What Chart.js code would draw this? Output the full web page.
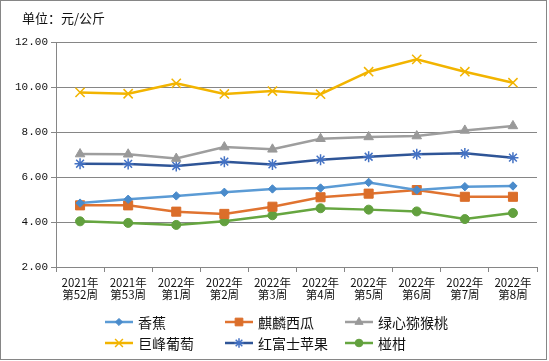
<!DOCTYPE html>
<html>
<head>
<meta charset="utf-8">
<script src="https://cdn.jsdelivr.net/npm/chart.js@4.4.1/dist/chart.umd.min.js"></script>
<style>
html,body{margin:0;padding:0;background:#fff;}
#wrap{width:549px;height:361px;position:relative;}
</style>
</head>
<body>
<div id="wrap"><canvas id="c" width="549" height="361"></canvas></div>
<script>
const categories = [
  ['2021年','第52周'], ['2021年','第53周'], ['2022年','第1周'], ['2022年','第2周'],
  ['2022年','第3周'], ['2022年','第4周'], ['2022年','第5周'], ['2022年','第6周'],
  ['2022年','第7周'], ['2022年','第8周']
];
const banana     = [4.84, 5.01, 5.16, 5.32, 5.47, 5.51, 5.76, 5.42, 5.57, 5.60];
const watermelon = [4.74, 4.74, 4.46, 4.36, 4.68, 5.10, 5.26, 5.42, 5.12, 5.12];
const kiwi       = [7.02, 7.01, 6.82, 7.33, 7.23, 7.70, 7.78, 7.82, 8.07, 8.27];
const grapes     = [9.76, 9.70, 10.16, 9.69, 9.82, 9.68, 10.68, 11.23, 10.68, 10.19];
const apple      = [6.59, 6.58, 6.49, 6.68, 6.56, 6.77, 6.90, 7.01, 7.05, 6.86];
const tangerine  = [4.03, 3.96, 3.87, 4.03, 4.30, 4.61, 4.55, 4.47, 4.13, 4.40];
const seriesNames = ['香蕉', '麒麟西瓜', '绿心猕猴桃', '巨峰葡萄', '红富士苹果', '椪柑'];
const yTicks = { min: 2, max: 12, step: 2 };
const unitLabel = '单位：元/公斤';

const GRID = '#868686';
const CJK = '"Noto Sans CJK SC", "Noto Sans", sans-serif';

const styles = [
  { line: '#5B9BD5', pt: '#4A8BCB', style: 'rectRot', r: 4.2, bw: 1 },
  { line: '#E07330', pt: '#DB6E2A', style: 'rect', r: 6.4, bw: 1 },
  { line: '#9E9E9E', pt: '#999999', style: 'triangle', r: 5.5, bw: 1 },
  { line: '#F2B400', pt: '#F2B400', style: 'crossRot', r: 6.5, bw: 1.5 },
  { line: '#2F5597', pt: '#4472C4', style: 'star', r: 5.5, bw: 1.5 },
  { line: '#66A640', pt: '#62A03E', style: 'circle', r: 4.5, bw: 1 }
];
const values = [banana, watermelon, kiwi, grapes, apple, tangerine];

const datasets = values.map((v, i) => ({
  label: seriesNames[i],
  data: v,
  borderColor: styles[i].line,
  backgroundColor: styles[i].pt,
  pointBackgroundColor: styles[i].pt,
  pointBorderColor: styles[i].pt,
  pointStyle: styles[i].style,
  pointRadius: styles[i].r,
  pointHoverRadius: styles[i].r,
  pointBorderWidth: styles[i].bw,
  borderWidth: 2.5,
  tension: 0,
  fill: false
}));

const decor = {
  id: 'decor',
  afterDraw(chart) {
    const ctx = chart.ctx;
    ctx.save();
    // outer border
    ctx.strokeStyle = GRID;
    ctx.lineWidth = 1;
    ctx.strokeRect(0.5, 0.5, 546, 359);
    // unit label
    ctx.fillStyle = '#111';
    ctx.font = '13px ' + CJK;
    ctx.textBaseline = 'middle';
    ctx.textAlign = 'left';
    ctx.fillText(unitLabel, 22, 18);
    // legend
    const cols = [105, 225, 345];
    const rows = [322, 343];
    ctx.font = '14px ' + CJK;
    seriesNames.forEach((name, i) => {
      const x = cols[i % 3], y = rows[Math.floor(i / 3)];
      const s = styles[i];
      ctx.strokeStyle = s.line;
      ctx.lineWidth = 2.5;
      ctx.beginPath();
      ctx.moveTo(x, y);
      ctx.lineTo(x + 28, y);
      ctx.stroke();
      ctx.fillStyle = s.pt;
      ctx.strokeStyle = s.pt;
      ctx.lineWidth = s.bw;
      Chart.helpers.drawPoint(ctx, { pointStyle: s.style, radius: s.r * 0.85, borderWidth: s.bw, rotation: 0 }, x + 14, y);
      ctx.fillStyle = '#111';
      ctx.fillText(name, x + 33, y + 1);
    });
    ctx.restore();
  }
};

new Chart(document.getElementById('c'), {
  type: 'line',
  data: { labels: categories, datasets },
  plugins: [decor],
  options: {
    responsive: false,
    animation: false,
    events: [],
    layout: { padding: { left: 0, top: 42, right: 12, bottom: 54 } },
    plugins: { legend: { display: false }, tooltip: { enabled: false } },
    scales: {
      x: {
        offset: true,
        grid: { drawOnChartArea: false, drawTicks: true, offset: true, tickLength: 5, color: GRID, lineWidth: 1 },
        border: { display: true, color: GRID, width: 1 },
        ticks: {
          color: '#111',
          font: { family: CJK, size: 11.5, lineHeight: 1.1 },
          padding: 4,
          maxRotation: 0,
          autoSkip: false
        },
        afterFit(scale) { scale.height = 40; }
      },
      y: {
        min: yTicks.min,
        max: yTicks.max,
        grid: { color: GRID, lineWidth: 1, tickLength: 5, drawTicks: true },
        border: { display: true, color: GRID, width: 1 },
        ticks: {
          stepSize: yTicks.step,
          color: '#111',
          font: { family: '"Liberation Mono", monospace', size: 11 },
          padding: 3,
          callback: v => Number(v).toFixed(2)
        },
        afterFit(scale) { scale.width = 56; }
      }
    }
  }
});
</script>
</body>
</html>
